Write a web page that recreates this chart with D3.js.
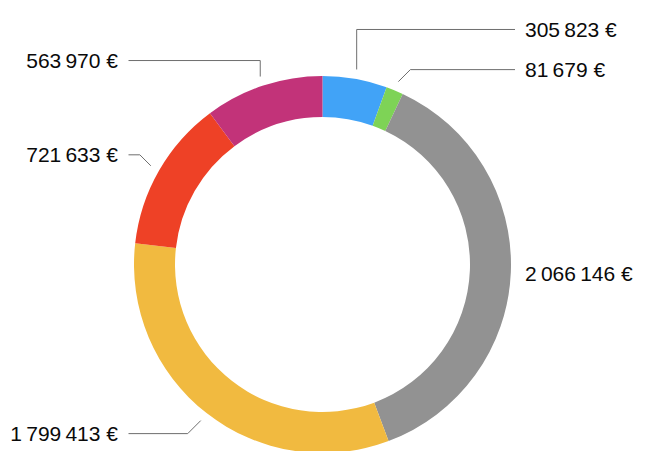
<!DOCTYPE html>
<html>
<head>
<meta charset="utf-8">
<script src="https://cdn.jsdelivr.net/npm/d3@7"></script>
<style>
  body { margin: 0; background: #fff; }
  text { font-family: "Liberation Sans", Arial, Helvetica, sans-serif; font-size: 21px; fill: #0a0a0a; }
</style>
</head>
<body>
<div id="chart"></div>
<script>
// slice values, clockwise from 12 o'clock
var values = [305823, 81679, 2066146, 1799413, 721633, 563970];
var colors = ['#41a3f7', '#7ed356', '#929292', '#f1ba40', '#ee4126', '#c23379'];
// vertical nudge of each label away from its slice (layout only)
var labelShift = [-40, -12, 1, 13, -11, -16];

var width = 647, height = 451;
var cx = 322.5, cy = 264.5;
var outerR = 188.5, innerR = 147.5, anchorR = 198;

var fmt = d3.formatLocale({
    decimal: ',', thousands: '\u2009', grouping: [3], currency: ['', '\u00a0€']
}).format('$,.0f');

var svg = d3.select('#chart').append('svg')
    .attr('width', width)
    .attr('height', height);

var pie = d3.pie().sort(null).value(function (d) { return d; });
var arc = d3.arc().innerRadius(innerR).outerRadius(outerR);
var slices = pie(values);

var g = svg.append('g').attr('transform', 'translate(' + cx + ',' + cy + ')');

g.selectAll('path.slice')
    .data(slices)
    .join('path')
    .attr('class', 'slice')
    .attr('d', arc)
    .attr('fill', function (d, i) { return colors[i]; });

// labels with leader lines
slices.forEach(function (d, i) {
    var mid = (d.startAngle + d.endAngle) / 2;
    var ax = cx + Math.sin(mid) * anchorR;
    var ay = cy - Math.cos(mid) * anchorR;
    var left = mid > Math.PI;
    var ly = ay + labelShift[i];
    var lineEnd = left ? 128.5 : 515;
    var textX = left ? 118 : 525;

    var dy = ly - ay;
    var ex, ey = ly;
    if (Math.abs(dy) > 14) {
        ex = ax;                       // straight up/down then across
    } else {
        ex = left ? ax - Math.abs(dy) : ax + Math.abs(dy); // 45 degree bend
    }

    var run = left ? ex - lineEnd : lineEnd - ex;
    if (run > 0) {
        svg.append('path')
            .attr('d', d3.line()([[ax, ay], [ex, ey], [lineEnd, ly]]))
            .attr('fill', 'none')
            .attr('stroke', '#6e6e6e')
            .attr('stroke-width', 1);
    }

    svg.append('text')
        .attr('x', textX)
        .attr('y', ly)
        .attr('dy', '0.36em')
        .attr('text-anchor', left ? 'end' : 'start')
        .text(fmt(d.data));
});
</script>
</body>
</html>
